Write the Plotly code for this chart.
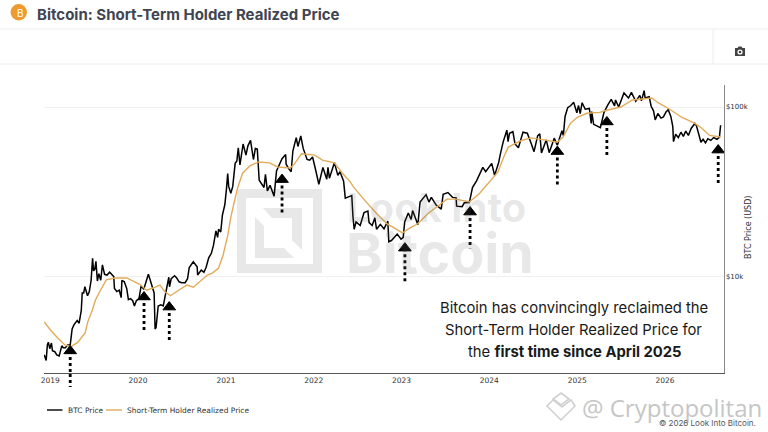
import plotly.graph_objects as go

# BTC price (USD)
btc_dates = [
    "2018-12-07", "2018-12-15", "2018-12-20", "2018-12-24", "2018-12-30", "2019-01-06", "2019-01-10", "2019-01-20",
    "2019-01-28", "2019-02-07", "2019-02-18", "2019-02-24", "2019-03-05", "2019-03-15", "2019-03-25", "2019-04-02",
    "2019-04-10", "2019-04-23", "2019-05-01", "2019-05-10", "2019-05-14", "2019-05-20", "2019-05-25", "2019-06-05",
    "2019-06-12", "2019-06-20", "2019-06-26", "2019-06-30", "2019-07-05", "2019-07-10", "2019-07-16", "2019-07-22",
    "2019-07-30", "2019-08-06", "2019-08-15", "2019-08-25", "2019-09-05", "2019-09-15", "2019-09-22", "2019-09-25",
    "2019-10-05", "2019-10-15", "2019-10-23", "2019-10-26", "2019-11-05", "2019-11-15", "2019-11-22", "2019-12-01",
    "2019-12-10", "2019-12-17", "2019-12-25", "2020-01-05", "2020-01-14", "2020-01-25", "2020-02-05", "2020-02-13",
    "2020-02-20", "2020-02-28", "2020-03-08", "2020-03-12", "2020-03-16", "2020-03-25", "2020-04-05", "2020-04-15",
    "2020-04-29", "2020-05-08", "2020-05-11", "2020-05-18", "2020-06-01", "2020-06-10", "2020-06-20", "2020-07-01",
    "2020-07-15", "2020-07-25", "2020-08-01", "2020-08-10", "2020-08-18", "2020-09-03", "2020-09-05", "2020-09-20",
    "2020-10-01", "2020-10-10", "2020-10-21", "2020-11-01", "2020-11-10", "2020-11-20", "2020-11-27", "2020-12-01",
    "2020-12-10", "2020-12-17", "2020-12-27", "2021-01-03", "2021-01-08", "2021-01-12", "2021-01-21", "2021-01-29",
    "2021-02-08", "2021-02-15", "2021-02-21", "2021-02-28", "2021-03-13", "2021-03-25", "2021-04-02", "2021-04-13",
    "2021-04-25", "2021-05-03", "2021-05-11", "2021-05-19", "2021-05-28", "2021-06-08", "2021-06-14", "2021-06-22",
    "2021-07-03", "2021-07-20", "2021-07-30", "2021-08-14", "2021-08-22", "2021-09-06", "2021-09-08", "2021-09-20",
    "2021-09-29", "2021-10-06", "2021-10-20", "2021-10-27", "2021-11-08", "2021-11-10", "2021-11-18", "2021-12-04",
    "2021-12-15", "2021-12-27", "2022-01-05", "2022-01-10", "2022-01-22", "2022-02-08", "2022-02-24", "2022-03-01",
    "2022-03-07", "2022-03-28", "2022-04-11", "2022-04-20", "2022-05-05", "2022-05-12", "2022-05-25", "2022-06-08",
    "2022-06-13", "2022-06-18", "2022-06-26", "2022-07-13", "2022-07-29", "2022-08-14", "2022-08-19", "2022-09-01",
    "2022-09-12", "2022-09-19", "2022-10-05", "2022-10-20", "2022-11-05", "2022-11-09", "2022-11-20", "2022-12-14",
    "2022-12-30", "2023-01-08", "2023-01-14", "2023-01-29", "2023-02-10", "2023-02-16", "2023-03-10", "2023-03-19",
    "2023-04-13", "2023-04-25", "2023-05-05", "2023-05-25", "2023-06-15", "2023-06-23", "2023-07-13", "2023-08-01",
    "2023-08-16", "2023-08-18", "2023-09-10", "2023-09-19", "2023-10-10", "2023-10-23", "2023-11-09", "2023-12-05",
    "2023-12-17", "2024-01-11", "2024-01-23", "2024-02-09", "2024-02-15", "2024-02-28", "2024-03-14", "2024-03-19",
    "2024-03-25", "2024-04-08", "2024-04-17", "2024-05-01", "2024-05-20", "2024-06-07", "2024-06-24", "2024-07-05",
    "2024-07-20", "2024-07-29", "2024-08-05", "2024-08-25", "2024-09-06", "2024-09-27", "2024-10-10", "2024-10-29",
    "2024-11-04", "2024-11-11", "2024-11-22", "2024-12-05", "2024-12-17", "2024-12-30", "2025-01-06", "2025-01-13",
    "2025-01-21", "2025-02-03", "2025-02-20", "2025-02-28", "2025-03-02", "2025-03-10", "2025-04-07", "2025-04-22",
    "2025-05-08", "2025-05-22", "2025-06-05", "2025-06-09", "2025-06-22", "2025-07-03", "2025-07-14", "2025-08-02",
    "2025-08-14", "2025-09-01", "2025-09-18", "2025-09-25", "2025-10-06", "2025-10-10", "2025-10-27", "2025-11-04",
    "2025-11-14", "2025-11-21", "2025-12-02", "2025-12-15", "2025-12-25", "2026-01-05", "2026-01-14", "2026-01-25",
    "2026-02-02", "2026-02-05", "2026-02-14", "2026-02-25", "2026-03-08", "2026-03-18", "2026-03-28", "2026-04-08",
    "2026-04-20", "2026-05-05", "2026-05-12", "2026-05-20", "2026-05-30", "2026-06-08", "2026-06-18", "2026-06-28",
    "2026-07-10", "2026-07-22", "2026-08-05", "2026-08-15", "2026-08-20",
]
btc_price = [
    3450, 3200, 3950, 4100, 3750, 4050, 3650, 3600,
    3450, 3400, 3900, 3800, 3800, 3950, 3950, 4900,
    5200, 5500, 5300, 6300, 8000, 8000, 8700, 7700,
    8100, 9500, 12800, 10800, 11000, 12300, 9400, 10400,
    9500, 11700, 10300, 10200, 10600, 10300, 10000, 8500,
    8150, 8300, 7500, 9500, 9300, 8500, 7300, 7400,
    7200, 6700, 7200, 7400, 8800, 8400, 9600, 10300,
    9600, 8700, 8000, 4900, 5000, 6700, 6800, 6700,
    8700, 9900, 8700, 9700, 10100, 9800, 9300, 9200,
    9200, 9700, 11300, 11800, 12200, 11400, 10200, 10900,
    10600, 11300, 12900, 13700, 15300, 18600, 17000, 19000,
    18300, 23000, 26500, 33000, 40500, 34000, 31000, 34000,
    46500, 48000, 57500, 45500, 60500, 52000, 59000, 63500,
    49000, 57000, 56500, 37000, 35500, 33500, 40000, 32000,
    34500, 29800, 42000, 47000, 49500, 52500, 46000, 43000,
    41500, 55000, 66000, 58500, 67500, 65000, 57000, 49000,
    48500, 50700, 43500, 41800, 35000, 44000, 37500, 44000,
    38000, 47000, 39500, 41500, 36500, 29000, 29500, 30000,
    22500, 19000, 21000, 20000, 23800, 24300, 20800, 20000,
    22200, 19000, 20300, 19100, 21200, 16000, 16300, 17800,
    16600, 17000, 21000, 23700, 21700, 24500, 20200, 27500,
    30400, 27500, 29300, 26400, 25000, 30500, 31300, 29300,
    29100, 26000, 25800, 27200, 27300, 33500, 36700, 44000,
    41500, 46500, 39500, 47000, 52000, 62500, 73000, 62500,
    70000, 71500, 60500, 57500, 71000, 70000, 60500, 54500,
    67500, 69500, 53500, 64000, 53800, 65500, 59500, 72500,
    67800, 88000, 99000, 102000, 106500, 92500, 102000, 91500,
    106000, 97000, 98000, 80000, 94000, 79000, 75500, 93000,
    103000, 111000, 101500, 110000, 100000, 109500, 121000, 113000,
    122000, 108000, 117000, 109000, 125000, 113000, 115000, 101000,
    95000, 84000, 91500, 86000, 87500, 93500, 96500, 88000,
    77000, 62500, 69000, 66000, 71000, 67000, 72000, 68000,
    75000, 80000, 77000, 70000, 62000, 64500, 61500, 65000,
    63500, 66000, 64500, 66500, 78000,
]

# Short-term holder realized price (USD)
sth_dates = [
    "2018-12-07", "2019-01-01", "2019-02-01", "2019-03-03", "2019-03-28", "2019-04-26", "2019-05-26", "2019-06-06",
    "2019-06-25", "2019-07-08", "2019-07-25", "2019-08-22", "2019-09-27", "2019-11-15", "2020-01-08", "2020-02-06",
    "2020-03-03", "2020-04-01", "2020-04-23", "2020-05-15", "2020-06-18", "2020-07-22", "2020-08-18", "2020-09-13",
    "2020-10-16", "2020-11-07", "2020-12-01", "2020-12-20", "2021-01-08", "2021-01-22", "2021-02-18", "2021-03-11",
    "2021-04-10", "2021-05-16", "2021-07-01", "2021-08-04", "2021-09-25", "2021-10-12", "2021-11-11", "2022-01-05",
    "2022-02-06", "2022-03-28", "2022-04-30", "2022-06-01", "2022-06-15", "2022-07-24", "2022-09-17", "2022-11-01",
    "2023-01-05", "2023-02-07", "2023-03-08", "2023-04-24", "2023-06-07", "2023-07-09", "2023-08-15", "2023-10-10",
    "2023-11-22", "2024-01-01", "2024-02-06", "2024-03-01", "2024-03-20", "2024-05-08", "2024-06-21", "2024-08-15",
    "2024-10-10", "2024-11-03", "2024-12-03", "2025-01-01", "2025-02-10", "2025-04-05", "2025-04-25", "2025-07-01",
    "2025-08-18", "2025-11-07", "2025-12-03", "2026-01-20", "2026-03-11", "2026-05-05", "2026-06-03", "2026-07-05",
    "2026-08-20",
]
sth_price = [
    5400, 4850, 4340, 3950, 3850, 4100, 4650, 5400,
    6350, 7270, 8100, 9550, 9800, 9800, 9000, 8300,
    8550, 8900, 8100, 7700, 8300, 8900, 8650, 9300,
    10200, 10500, 11200, 13400, 17400, 22800, 33300, 40700,
    44900, 47400, 46800, 44300, 43700, 46000, 53000, 52000,
    48600, 46800, 40700, 36300, 33800, 29000, 23700, 20500,
    18100, 19400, 20400, 23700, 26400, 28600, 28600, 27500,
    31000, 36300, 41400, 50700, 58000, 63000, 65700, 64000,
    62000, 66500, 80000, 87000, 91800, 93000, 95000, 100000,
    110000, 113000, 106000, 97000, 87000, 80000, 75000, 68000,
    66500,
]

# Arrows marking the reclaims: head and tail of each one
arrow_dates = ["2019-03-25", "2020-01-26", "2020-05-10", "2021-08-22", "2023-01-15", "2023-10-13", "2024-10-10", "2025-05-04", "2026-08-10"]
arrow_head = [3640, 7570, 6600, 37300, 14700, 24000, 54600, 81600, 55700]
arrow_tail = [2230, 4640, 4050, 23400, 9160, 14700, 33700, 50700, 34700]

y_tick_vals = [10000, 100000]
y_tick_text = ["$10k", "$100k"]
x_tick_vals = ["2019-01-01", "2020-01-01", "2021-01-01", "2022-01-01", "2023-01-01", "2024-01-01", "2025-01-01", "2026-01-01"]
x_tick_text = ["2019", "2020", "2021", "2022", "2023", "2024", "2025", "2026"]

callout_lines = [
    "Bitcoin has convincingly reclaimed the",
    "Short-Term Holder Realized Price for",
    "the <b>first time since April 2025</b>",
]

W, H = 768, 432
WATERMARK = "#e8e8e8"
BLACK = "#000000"
ORANGE = "#e2ab5a"
AXIS_FONT = "DejaVu Sans"


def px(x):
    return x / W


def py(y):
    return 1 - y / H


def pixel_path(points):
    # builds a closed svg path in paper coordinates
    return "M" + " L".join(f"{px(x):.4f},{py(y):.4f}" for x, y in points) + " Z"


def paper_shape(path, fill, line=None, width=0, layer="below"):
    return dict(type="path", xref="paper", yref="paper", path=path, fillcolor=fill,
                line=dict(color=line or fill, width=width), layer=layer)


def rule(x0, y0, x1, y1, color="#ececec", width=1):
    return dict(type="line", xref="paper", yref="paper", x0=px(x0), y0=py(y0), x1=px(x1), y1=py(y1),
                line=dict(color=color, width=width), layer="below")


def label(text, x, y, size, color="#333333", family="Inter", anchor="left", angle=0):
    return dict(text=text, xref="paper", yref="paper", x=px(x), y=py(y), xanchor=anchor, yanchor="middle",
                showarrow=False, textangle=angle, font=dict(size=size, color=color, family=family))


fig = go.Figure()

fig.add_trace(go.Scatter(x=btc_dates, y=btc_price, mode="lines", name="BTC Price",
                         line=dict(color=BLACK, width=1.5)))
fig.add_trace(go.Scatter(x=sth_dates, y=sth_price, mode="lines", name="Short-Term Holder Realized Price",
                         line=dict(color=ORANGE, width=1.4)))

for date, head, tail in zip(arrow_dates, arrow_head, arrow_tail):
    fig.add_trace(go.Scatter(x=[date, date], y=[head, tail], mode="lines", showlegend=False, cliponaxis=False,
                             line=dict(color=BLACK, width=2.8, dash="3px,3px")))
    fig.add_trace(go.Scatter(x=[date], y=[head], mode="markers", showlegend=False, cliponaxis=False,
                             marker=dict(symbol="triangle-up", size=11, color=BLACK, line=dict(color=BLACK, width=1))))

shapes = [
    rule(0, 29, 768, 29),
    rule(0, 64, 768, 64),
    rule(713, 29, 713, 64),
    # bitcoin coin
    dict(type="circle", xref="paper", yref="paper", x0=px(10.5), x1=px(27), y0=py(20.5), y1=py(4),
         fillcolor="#ee9a2e", line=dict(width=0)),
    # camera icon
    paper_shape(pixel_path([(735, 48), (737.5, 48), (738.5, 46.5), (741.5, 46.5), (742.5, 48), (745, 48), (745, 56), (735, 56)]), "#444444"),
    dict(type="circle", xref="paper", yref="paper", x0=px(737.4), x1=px(742.6), y0=py(54.6), y1=py(49.4),
         fillcolor="#ffffff", line=dict(width=0)),
    dict(type="circle", xref="paper", yref="paper", x0=px(738.7), x1=px(741.3), y0=py(53.3), y1=py(50.7),
         fillcolor="#444444", line=dict(width=0)),
    # watermark logo
    paper_shape(pixel_path([(237, 189), (322, 189), (322, 273), (237, 273)]) + " "
                + pixel_path([(246, 198), (313, 198), (313, 264), (246, 264)]), WATERMARK),
    paper_shape(pixel_path([(263, 208), (302, 208), (302, 250), (292, 240), (292, 218), (272, 218)]), WATERMARK),
    paper_shape(pixel_path([(255, 217), (264, 226), (264, 248), (284, 248), (294, 258), (255, 258)]), WATERMARK),
    # small cryptopolitan mark
    paper_shape(pixel_path([(561, 393), (569, 399), (561, 405), (553, 399)]), "rgba(0,0,0,0)", "#d0d0d0", 1.6, "above"),
    paper_shape(pixel_path([(553, 400), (562, 407), (571, 400), (575, 406), (561, 420), (547, 406)]), "rgba(0,0,0,0)", "#d0d0d0", 1.6, "above"),
    # legend samples
    rule(47, 410, 62.5, 410, BLACK, 1.4),
    rule(106, 410, 122, 410, ORANGE, 1.4),
    # first arrow's tail runs on below the axis, and trace lines get clipped there
    dict(type="line", xref="x", yref="paper", x0=arrow_dates[0], x1=arrow_dates[0], y0=py(374), y1=py(387),
         line=dict(color=BLACK, width=2.8, dash="3px,3px"), layer="above"),
]

annotations = [
    label("B", 15, 12.5, 10, "#ffffff", "Inter"),
    label("<b>Bitcoin: Short-Term Holder Realized Price</b>", 35, 14, 15, "#3f4552"),
    label("<b>Look Into</b>", 345, 208, 40, "rgba(110,110,110,0.16)"),
    label("<b>Bitcoin</b>", 344, 252, 55.5, "rgba(110,110,110,0.16)"),
    label(callout_lines[0], 574, 308, 14.8, "#1a1a1a", anchor="center"),
    label(callout_lines[1], 573, 330, 14.8, "#1a1a1a", anchor="center"),
    label(callout_lines[2], 574.5, 352, 14.8, "#1a1a1a", anchor="center"),
    label("BTC Price (USD)", 748, 228, 8, "#333333", AXIS_FONT, "center", -90),
    label("BTC Price", 66, 410.5, 7.5, "#333333", AXIS_FONT),
    label("Short-Term Holder Realized Price", 125, 410.5, 7.5, "#333333", AXIS_FONT),
    label("@ Cryptopolitan", 580, 407, 24, "#c6c6c6", "Open Sans"),
    label("© 2026 Look Into Bitcoin.", 657, 423, 8, "#555555", "Inter"),
]

fig.update_layout(
    width=W,
    height=H,
    autosize=False,
    margin=dict(l=0, r=0, t=0, b=0),
    paper_bgcolor="#ffffff",
    plot_bgcolor="rgba(0,0,0,0)",
    showlegend=False,
    shapes=shapes,
    annotations=annotations,
    xaxis=dict(
        type="date",
        domain=[px(44), px(723.5)],
        range=["2018-12-06", "2026-09-01"],
        automargin=False,
        tickmode="array",
        tickvals=x_tick_vals,
        ticktext=x_tick_text,
        ticks="",
        showgrid=False,
        zeroline=False,
        showline=True,
        linecolor="#555555",
        linewidth=1,
        tickfont=dict(size=7.5, color="#333333", family=AXIS_FONT),
    ),
    yaxis=dict(
        type="log",
        domain=[py(373), py(85)],
        range=[0.4307 + 3, 2.1298 + 3],
        automargin=False,
        side="right",
        tickmode="array",
        tickvals=y_tick_vals,
        ticktext=y_tick_text,
        ticks="",
        showgrid=True,
        gridcolor="#f0f0f0",
        gridwidth=1,
        zeroline=False,
        showline=True,
        linecolor="#888888",
        linewidth=1,
        tickfont=dict(size=7, color="#333333", family=AXIS_FONT),
    ),
)

# the page's default body margin would push the whole figure off by 8px
fig.write_html("out.html", config=dict(displayModeBar=False), post_script="document.body.style.margin='0';")
